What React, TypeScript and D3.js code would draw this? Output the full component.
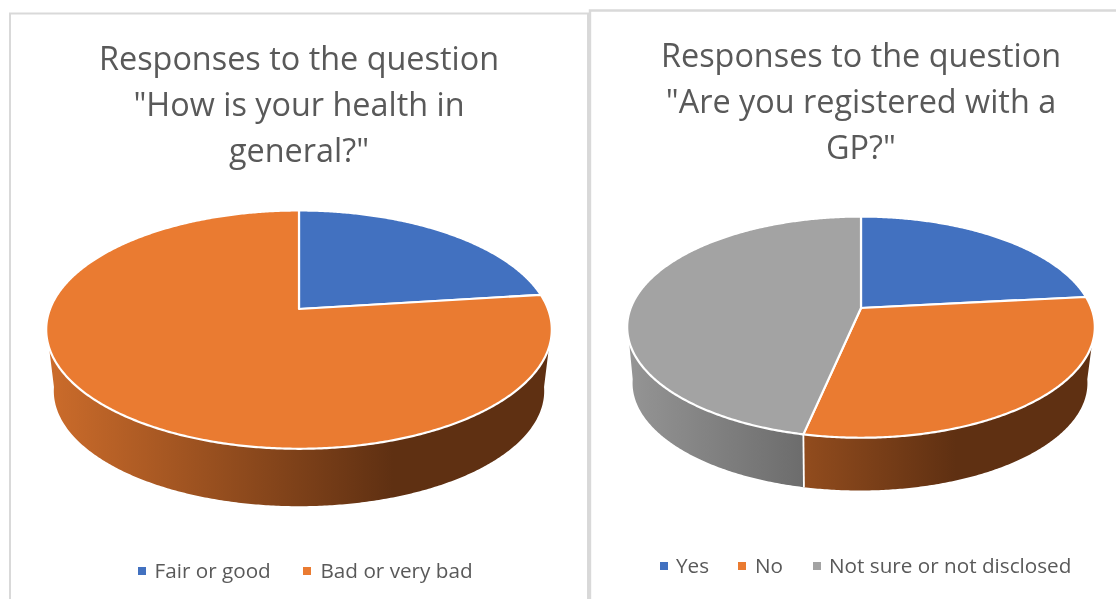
import * as d3 from 'd3';

const width = 1116;
const height = 599;

// Left chart
const healthTitle = ['Responses to the question', '"How is your health in', 'general?"'];
const healthLabels = ['Fair or good', 'Bad or very bad'];
const healthValues = [23, 77];

// Right chart
const gpTitle = ['Responses to the question', '"Are you registered with a', 'GP?"'];
const gpLabels = ['Yes', 'No', 'Not sure or not disclosed'];
const gpValues = [7, 9, 14];

const faceColors = ['#4271c0', '#ea7b31', '#a3a3a3'];
const wallStops = [
  ['#4472c4', '#233b66'],
  ['#cc6c2b', '#5f3012'],
  ['#959595', '#494949'],
];

// Perspective ellipse: t = clockwise angle from 12 o'clock
interface Rim { cx: number; cy: number; a: number; b: number; p: number }
const project = (r: Rim, t: number): [number, number] => {
  const w = 1 + r.p * Math.cos(t);
  return [r.cx + (r.a * Math.sin(t)) / w, r.cy - (r.b * Math.cos(t)) / w];
};

const deg = Math.PI / 180;
const arcPoints = (r: Rim, from: number, to: number) => {
  const n = Math.max(2, Math.ceil(Math.abs(to - from) / (0.5 * deg)));
  return d3.range(n + 1).map(i => project(r, from + ((to - from) * i) / n));
};
const line = d3.line();

interface PieProps {
  id: string;
  values: number[];
  top: Rim;
  bottom: Rim;
  gradX: [number, number];
}

function Pie3D({ id, values, top, bottom, gradX }: PieProps) {
  const slices = d3.pie<number>().sort(null)(values);
  // visible part of the side wall
  const wallFrom = 98 * deg, wallTo = 262 * deg;
  const walls = slices
    .map((s, i) => {
      const t0 = Math.max(s.startAngle, wallFrom), t1 = Math.min(s.endAngle, wallTo);
      if (t1 <= t0) return null;
      return { i, pts: [...arcPoints(top, t0, t1), ...arcPoints(bottom, t1, t0)] };
    })
    .filter(Boolean) as { i: number; pts: [number, number][] }[];
  // white seams between neighbouring wall pieces
  const seams = slices.map(s => s.endAngle).filter(t => t > wallFrom && t < wallTo);

  return (
    <g>
      <defs>
        {wallStops.map((c, i) => (
          <linearGradient key={i} id={`${id}-w${i}`} gradientUnits="userSpaceOnUse" x1={gradX[0]} x2={gradX[1]} y1={0} y2={0}>
            <stop offset="0" stopColor={c[0]} />
            <stop offset="1" stopColor={c[1]} />
          </linearGradient>
        ))}
      </defs>
      {walls.map(w => (
        <path key={w.i} d={line(w.pts)! + 'Z'} fill={`url(#${id}-w${w.i})`} />
      ))}
      {seams.map(t => (
        <path key={t} d={line([project(top, t), project(bottom, t)])!} stroke="#fff" strokeWidth={1.8} fill="none" />
      ))}
      {slices.map((s, i) => (
        <path
          key={i}
          d={line([[top.cx, top.cy], ...arcPoints(top, s.startAngle, s.endAngle)])! + 'Z'}
          fill={faceColors[i]}
          stroke="#fff"
          strokeWidth={2.2}
          strokeLinejoin="round"
        />
      ))}
    </g>
  );
}

function Title({ lines, x, y }: { lines: string[]; x: number; y: number }) {
  return (
    <text x={x} y={y} textAnchor="middle" fontSize={32.4} fill="#595959">
      {lines.map((l, i) => (
        <tspan key={i} x={x} y={y + i * 46}>{l}</tspan>
      ))}
    </text>
  );
}

function Legend({ labels, squares, texts, y }: { labels: string[]; squares: number[]; texts: number[]; y: number }) {
  return (
    <g fontSize={20.7} fill="#595959">
      {labels.map((l, i) => (
        <g key={l}>
          <rect x={squares[i]} y={y - 11} width={8} height={8} fill={faceColors[i]} />
          <text x={texts[i]} y={y}>{l}</text>
        </g>
      ))}
    </g>
  );
}

export default function App() {
  return (
    <svg
      width={width}
      height={height}
      viewBox={`0 0 ${width} ${height}`}
      style={{
        position: 'absolute',
        left: 0,
        top: 0,
        fontFamily: '"Open Sans", "Noto Sans", sans-serif',
        background: '#fff',
        filter: 'blur(0.45px)',
      }}
    >
      {/* panel frames */}
      <path d={`M10,${height}V13.5H588V${height}`} fill="none" stroke="#d9d9d9" strokeWidth={2} />
      <path d={`M590,${height}V10.5H${width}`} fill="none" stroke="#d9d9d9" strokeWidth={2.4} />

      <Title lines={healthTitle} x={299} y={70} />
      <Title lines={gpTitle} x={861} y={67} />

      <Pie3D
        id="health"
        values={healthValues}
        top={{ cx: 299, cy: 309, a: 249, b: 115.6, p: 0.173 }}
        bottom={{ cx: 299, cy: 371, a: 241.5, b: 111.8, p: 0.173 }}
        gradX={[47, 393]}
      />
      <Pie3D
        id="gp"
        values={gpValues}
        top={{ cx: 861, cy: 308, a: 230.3, b: 107.3, p: 0.173 }}
        bottom={{ cx: 860, cy: 364.5, a: 224, b: 104.2, p: 0.173 }}
        gradX={[627, 956]}
      />

      <Legend labels={healthLabels} squares={[138, 303]} texts={[154.5, 320.5]} y={578} />
      <Legend labels={gpLabels} squares={[660, 738, 813]} texts={[676, 755, 829]} y={573} />
    </svg>
  );
}
